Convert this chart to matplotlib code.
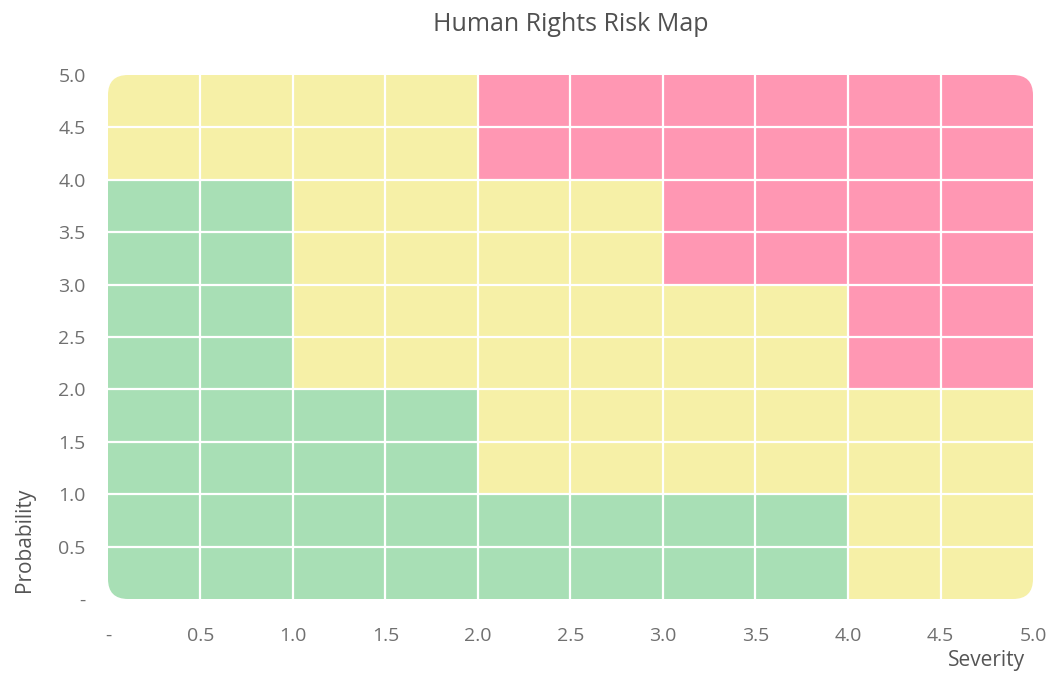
"""
Human Rights Risk Map - severity vs probability heat grid.
"""

import numpy as np
import matplotlib.pyplot as plt
from matplotlib.colors import ListedColormap
from matplotlib.patches import FancyBboxPatch

plt.rcParams['font.family'] = ['Open Sans', 'DejaVu Sans']

# Cell edges (0.5 steps) on both axes
severity_edges = [0, 0.5, 1.0, 1.5, 2.0, 2.5, 3.0, 3.5, 4.0, 4.5, 5.0]
probability_edges = [0, 0.5, 1.0, 1.5, 2.0, 2.5, 3.0, 3.5, 4.0, 4.5, 5.0]
tick_labels = ['-', '0.5', '1.0', '1.5', '2.0', '2.5', '3.0', '3.5', '4.0', '4.5', '5.0']

# Risk level per cell: 0 = low (green), 1 = medium (yellow), 2 = high (pink)
# rows go from probability 0-0.5 (bottom) to 4.5-5.0 (top)
risk_levels = [
    [0, 0, 0, 0, 0, 0, 0, 0, 1, 1],
    [0, 0, 0, 0, 0, 0, 0, 0, 1, 1],
    [0, 0, 0, 0, 1, 1, 1, 1, 1, 1],
    [0, 0, 0, 0, 1, 1, 1, 1, 1, 1],
    [0, 0, 1, 1, 1, 1, 1, 1, 2, 2],
    [0, 0, 1, 1, 1, 1, 1, 1, 2, 2],
    [0, 0, 1, 1, 1, 1, 2, 2, 2, 2],
    [0, 0, 1, 1, 1, 1, 2, 2, 2, 2],
    [1, 1, 1, 1, 2, 2, 2, 2, 2, 2],
    [1, 1, 1, 1, 2, 2, 2, 2, 2, 2],
]
risk_colors = ['#a8dfb5', '#f6f0a7', '#ff97b3']

fig = plt.figure(figsize=(10.48, 6.75), dpi=100)
ax = fig.add_axes([0.103, 0.1126, 0.8827, 0.7763])

mesh = ax.pcolormesh(severity_edges, probability_edges, np.array(risk_levels),
                     cmap=ListedColormap(risk_colors), vmin=-0.5, vmax=2.5,
                     edgecolor='none')

# rounded outline for the whole grid
ax_w, ax_h = 0.8827 * 1048, 0.7763 * 675
clip = FancyBboxPatch((0, 0), 1, 1, boxstyle='round,pad=0,rounding_size=%f' % (20 / ax_w),
                      mutation_aspect=ax_w / ax_h, transform=ax.transAxes,
                      facecolor='none', edgecolor='none')
ax.add_patch(clip)
mesh.set_clip_path(clip)

# white separators between cells (interior only)
vl = ax.vlines(severity_edges[1:-1], 0, 5, color='white', linewidth=1.6)
hl = ax.hlines(probability_edges[1:-1], 0, 5, color='white', linewidth=1.6)
vl.set_clip_path(clip)
hl.set_clip_path(clip)

ax.set_xlim(0, 5)
ax.set_ylim(0, 5)
ax.set_xticks(severity_edges)
ax.set_xticklabels(tick_labels)
ax.set_yticks(probability_edges)
ax.set_yticklabels(tick_labels)
ax.tick_params(axis='x', length=0, pad=20, labelsize=14, labelcolor='#707070')
ax.tick_params(axis='y', length=0, pad=16, labelsize=14, labelcolor='#707070')
for sp in ax.spines.values():
    sp.set_visible(False)

ax.set_title('Human Rights Risk Map', fontsize=18, color='#505050', pad=32)
ax.set_xlabel('Severity', fontsize=15, color='#555555', loc='right')
ax.xaxis.set_label_coords(0.991, -0.098)
ax.set_ylabel('Probability', fontsize=15, color='#555555', loc='bottom')
ax.yaxis.set_label_coords(-0.079, 0.013)

plt.savefig('out.png', dpi=100)
plt.close()
